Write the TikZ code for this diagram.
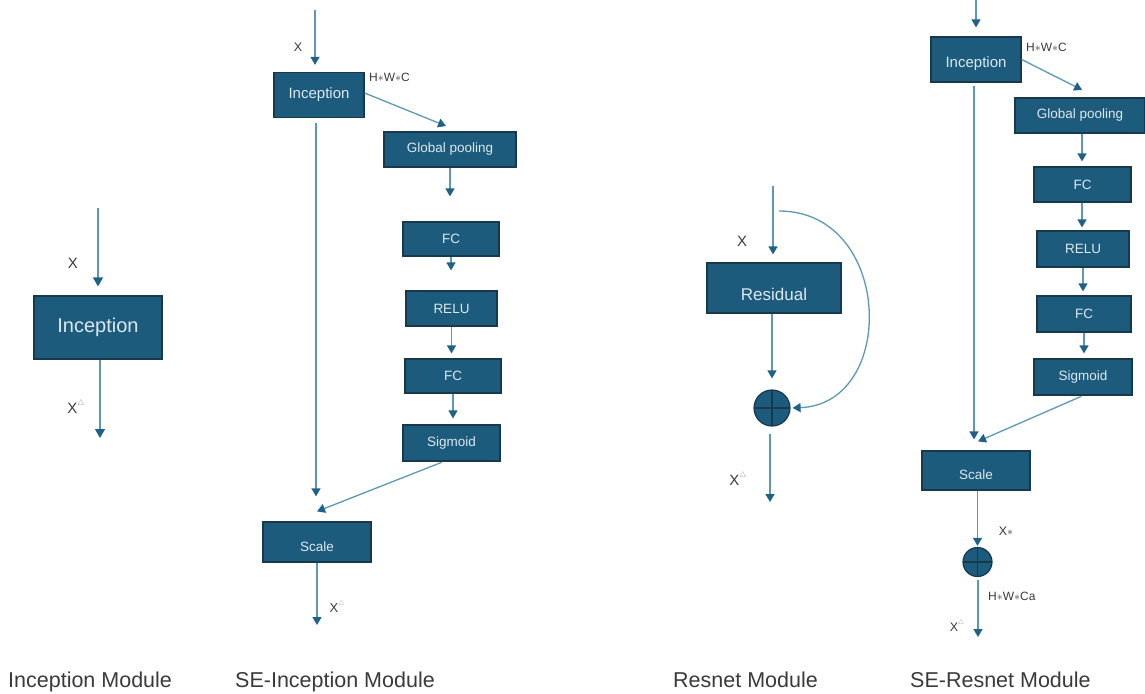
\documentclass[tikz,border=0pt]{standalone}
\usepackage{fontspec}
\setmainfont{Liberation Sans}
\usetikzlibrary{arrows.meta}
\definecolor{boxfill}{HTML}{1C5B7C}
\definecolor{boxline}{HTML}{17394B}
\definecolor{linec}{HTML}{5E97B6}
\definecolor{tipc}{HTML}{1F6288}
\definecolor{boxtext}{HTML}{DCE8EF}
\definecolor{labc}{HTML}{3A3A3A}
\definecolor{tric}{HTML}{8A8A8A}
\newcommand{\fs}[1]{\fontsize{#1}{#1}\selectfont}
\newcommand{\xd}{X\raisebox{0.55em}{\textcolor{tric}{\scalebox{0.55}{$\triangle$}}}}
\tikzset{
 box/.style={draw=boxline, line width=1.2pt, fill=boxfill, text=boxtext, inner sep=0pt, font=\fs{13.5}},
 arr/.style={draw=linec, line width=1.3pt, -{Triangle[width=9pt,length=8pt,color=tipc]}},
 bigarr/.style={draw=linec, line width=1.4pt, -{Triangle[width=10pt,length=9pt,color=tipc]}},
 lab/.style={text=labc, inner sep=0pt},
 title/.style={text=labc, font=\fs{21.5}, inner sep=0pt, anchor=base west},
 plus/.style={circle, draw=boxline, fill=boxfill, line width=1.2pt, inner sep=0pt,
   path picture={\draw[boxline, line width=1.2pt] (path picture bounding box.north) -- (path picture bounding box.south) (path picture bounding box.west) -- (path picture bounding box.east);}}
}
\begin{document}
\begin{tikzpicture}[x=1pt,y=-1pt]
\useasboundingbox (0,0) rectangle (1145,693);

% ---------------- Inception Module ----------------
\node[box, minimum width=128pt, minimum height=63pt, font=\fs{20}] (incA) at (98,327.5) {Inception};
\coordinate (a0) at (98,208);
\coordinate (a1) at (100,438);
\draw[bigarr, shorten >=9pt] (a0) -- (a0 |- incA.north);
\draw[bigarr] (incA.south -| a1) -- (a1);
\node[lab, font=\fs{15}] (la1) at (73,263) {X};
\node[lab, font=\fs{15}] (la2) at (76,407) {\xd};
\node[title] (t1) at (8,687) {Inception Module};

% ---------------- SE-Inception Module ----------------
\node[box, minimum width=90pt, minimum height=45pt, font=\fs{15}] (inc1) at (319,95) {Inception};
\node[box, minimum width=132pt, minimum height=35pt] (gp1) at (450,149.5) {Global pooling};
\node[box, minimum width=96pt, minimum height=34pt] (fc1a) at (451,239) {FC};
\node[box, minimum width=91pt, minimum height=35pt] (relu1) at (451.5,308.5) {RELU};
\node[box, minimum width=96pt, minimum height=34pt] (fc1b) at (453,376) {FC};
\node[box, minimum width=97pt, minimum height=36pt] (sig1) at (451.5,443) {Sigmoid};
\node[box, minimum width=108pt, minimum height=40pt] (scale1) at (317,542) {\raisebox{-9pt}[0pt][0pt]{Scale}};
\coordinate (b0) at (315,10);
\coordinate (b1) at (317,625);
\draw[arr, shorten >=7pt] (b0) -- (b0 |- inc1.north);
\draw[arr, shorten >=1pt] ([yshift=2pt]inc1.east) -- ([xshift=-3pt,yshift=5pt]gp1.north);
\draw[arr, shorten >=25pt] (gp1.south) -- (gp1.south |- fc1a.north);
\draw[arr, shorten >=20pt] (fc1a.south) -- (fc1a.south |- relu1.north);
\draw[arr, shorten >=5pt] (relu1.south) -- (relu1.south |- fc1b.north);
\draw[arr, shorten >=6pt] (fc1b.south) -- (fc1b.south |- sig1.north);
\draw[arr, shorten <=5pt, shorten >=25pt] ([xshift=-3pt]inc1.south) -- ([xshift=-3pt]inc1.south |- scale1.north);
\draw[arr, shorten <=2pt] ([xshift=-8pt]sig1.south) -- ([yshift=10pt]scale1.north);
\draw[arr] (scale1.south) -- (b1);
\node[lab, font=\fs{12.5}] (lb1) at (298,47) {X};
\node[lab, font=\fs{12}, anchor=west] (lb2) at (369,77) {H$\ast$W$\ast$C};
\node[lab, font=\fs{13}] (lb3) at (337,607) {\xd};
\node[title] (t2) at (235,687) {SE-Inception Module};

% ---------------- Resnet Module ----------------
\node[box, minimum width=134pt, minimum height=50pt, font=\fs{17}] (res) at (774,288) {\raisebox{-12pt}[0pt][0pt]{Residual}};
\node[plus, minimum size=36pt] (p1) at (772,408) {};
\coordinate (r0) at (773,186);
\coordinate (r1) at (779,211);
\coordinate (r2) at (770,502);
\draw[arr, shorten >=8pt] (r0) -- (r0 |- res.north);
\draw[arr, shorten >=11pt] (res.south -| p1) -- (p1.north);
\draw[arr, shorten >=2pt] (r1) .. controls (893,211) and (898,404) .. (p1.east);
\draw[arr, shorten <=7pt] (p1.south -| r2) -- (r2);
\node[lab, font=\fs{15}] (lr1) at (742,241) {X};
\node[lab, font=\fs{15}] (lr2) at (738,479) {\xd};
\node[title] (t3) at (673,687) {Resnet Module};

% ---------------- SE-Resnet Module ----------------
\node[box, minimum width=90pt, minimum height=45pt, font=\fs{15}] (inc2) at (976,59.5) {\raisebox{-8pt}[0pt][0pt]{Inception}};
\node[box, minimum width=130pt, minimum height=35pt] (gp2) at (1080,115.5) {Global pooling};
\node[box, minimum width=97pt, minimum height=35pt] (fc2a) at (1082.5,184.5) {FC};
\node[box, minimum width=92pt, minimum height=36pt] (relu2) at (1083,249) {RELU};
\node[box, minimum width=94pt, minimum height=36pt] (fc2b) at (1084,314) {FC};
\node[box, minimum width=98pt, minimum height=36pt] (sig2) at (1083,377) {Sigmoid};
\node[box, minimum width=108pt, minimum height=39pt] (scale2) at (976,470.5) {\raisebox{-9pt}[0pt][0pt]{Scale}};
\node[plus, minimum size=29pt] (p2) at (977.5,562) {};
\coordinate (c0) at (976,0);
\coordinate (c1) at (978,637);
\draw[arr, shorten >=9pt] (c0) -- (c0 |- inc2.north);
\draw[arr, shorten >=1pt] (inc2.east) -- ([xshift=3pt,yshift=7pt]gp2.north);
\draw[arr, shorten >=5pt] ([xshift=2pt]gp2.south) -- ([xshift=2pt]gp2.south |- fc2a.north);
\draw[arr, shorten >=3pt] ([xshift=-0.5pt]fc2a.south) -- ([xshift=-0.5pt]fc2a.south |- relu2.north);
\draw[arr, shorten >=4pt] (relu2.south) -- (relu2.south |- fc2b.north);
\draw[arr, shorten >=5pt] (fc2b.south) -- (fc2b.south |- sig2.north);
\draw[arr, shorten <=3pt, shorten >=11pt] ([xshift=-2pt]inc2.south) -- ([xshift=-2pt]inc2.south |- scale2.north);
\draw[arr, shorten <=2pt] (sig2.south) -- ([xshift=2pt,yshift=9pt]scale2.north);
\draw[arr, shorten >=1pt] (p2.north |- scale2.south) -- (p2.north);
\draw[arr, shorten <=3pt] (p2.south -| c1) -- (c1);
\node[lab, font=\fs{12.5}] (ls1) at (1006,531) {X$\ast$};
\node[lab, font=\fs{12}, anchor=west] (ls2) at (988,596) {H$\ast$W$\ast$Ca};
\node[lab, font=\fs{12.5}] (ls3) at (957,626) {\xd};
\node[lab, font=\fs{12}, anchor=west] (ls4) at (1026,47) {H$\ast$W$\ast$C};
\node[title] (t4) at (910,687) {SE-Resnet Module};
\end{tikzpicture}
\end{document}
